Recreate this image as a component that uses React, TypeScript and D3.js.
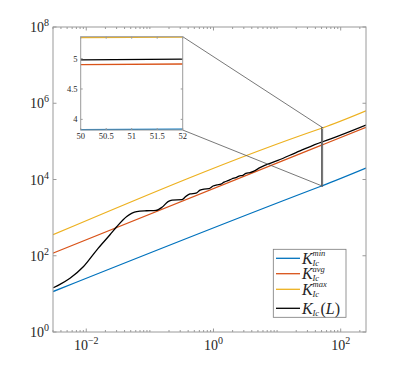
import * as d3 from "d3";

// end points of the straight bounds (L, K)
const boundL = [0.003, 50, 52, 250];
const kMin = [11.5, 6760, 6930, 19950];
const kAvg = [117, 79400, 81500, 234000];
const kMax = [355, 221000, 226000, 631000];

// K_Ic(L) curve
const curveL = [
  0.00303, 0.00386, 0.00555, 0.00898, 0.0146, 0.0236, 0.0301, 0.0433, 0.0621,
  0.0891, 0.125, 0.155, 0.193, 0.223, 0.32, 0.37, 0.428, 0.531, 0.614, 0.71,
  0.851, 0.984, 1.14, 1.31, 1.47, 1.69, 1.96, 2.26, 2.52, 2.91, 3.24, 3.75,
  4.34, 5.38, 10.3, 22.9, 50, 52, 250,
];
const curveK = [
  14.5, 17.8, 25.7, 51.3, 141, 355, 575, 1072, 1445, 1514, 1549, 1862, 2630,
  2884, 2951, 3631, 4169, 4365, 5248, 5623, 5754, 6761, 7244, 7586, 8511, 9333,
  10470, 11220, 12300, 12880, 14450, 15140, 16600, 20420, 31620, 56200, 95500,
  97700, 269000,
];

const xTickLabels = [1e-2, 1, 1e2];
const yTickLabels = [1, 1e2, 1e4, 1e6, 1e8];
const insetXTicks = [50, 50.5, 51, 51.5, 52];
const insetYTicks = [4, 4.5, 5];
const zoomBox = { l0: 50, l1: 52, k0: 3.825, k1: 5.36 };

const COLORS = ["#0072BD", "#D95319", "#EDB120", "#000000"];
const AXIS = "#9a9a9a";
const TEXT = "#262626";
const SERIF = "'Liberation Serif', 'DejaVu Serif', serif";

const P = { left: 53, right: 366, top: 27, bottom: 332 };
const INSET = { left: 80.7, right: 182.7, top: 36.7, bottom: 130 };

const series = [
  { L: boundL, K: kMin, color: COLORS[0], sup: "min" },
  { L: boundL, K: kAvg, color: COLORS[1], sup: "avg" },
  { L: boundL, K: kMax, color: COLORS[2], sup: "max" },
  { L: curveL, K: curveK, color: COLORS[3], sup: null },
];

const exp = (v: number) => {
  const e = Math.round(Math.log10(v));
  return e < 0 ? "\u2212" + Math.abs(e) : String(e);
};

export default function App() {
  const x = d3.scaleLog().domain([0.003, 250]).range([P.left, P.right]);
  const y = d3.scaleLog().domain([1, 1e8]).range([P.bottom, P.top]);
  const ix = d3.scaleLinear().domain([50, 52]).range([INSET.left, INSET.right]);
  const iy = d3
    .scaleLinear()
    .domain([zoomBox.k0, zoomBox.k1])
    .range([INSET.bottom, INSET.top]);

  const line = d3
    .line<[number, number]>()
    .x((d) => x(d[0]))
    .y((d) => y(d[1]))
    .curve(d3.curveMonotoneX);
  const insetLine = d3
    .line<[number, number]>()
    .x((d) => ix(d[0]))
    .y((d) => iy(Math.log10(d[1])));

  const minorX = x.ticks().filter((t) => !xTickLabels.some((m) => Math.abs(m - t) / m < 1e-6));

  const bx0 = x(zoomBox.l0);
  const bx1 = x(zoomBox.l1);
  const by0 = y(Math.pow(10, zoomBox.k0));
  const by1 = y(Math.pow(10, zoomBox.k1));

  const legendRows = [258.3, 273.7, 289.3, 308.3];

  return (
    <svg
      width={405}
      height={373}
      style={{ position: "absolute", left: 0, top: 0, background: "#fff", fontFamily: SERIF }}
    >
      <defs>
        <clipPath id="plot">
          <rect x={P.left} y={P.top} width={P.right - P.left} height={P.bottom - P.top} />
        </clipPath>
      </defs>

      {/* main lines */}
      <g clipPath="url(#plot)">
        {series.map((s, i) => (
          <path
            key={i}
            d={line(s.L.map((l, j) => [l, s.K[j]] as [number, number])) || ""}
            fill="none"
            stroke={s.color}
            strokeWidth={1.3}
          />
        ))}
      </g>

      {/* axes box */}
      <rect
        x={P.left}
        y={P.top}
        width={P.right - P.left}
        height={P.bottom - P.top}
        fill="none"
        stroke={AXIS}
        strokeWidth={1}
      />
      {xTickLabels.map((t, i) => (
        <g key={i}>
          <line x1={x(t)} x2={x(t)} y1={P.bottom} y2={P.bottom - 3.5} stroke={AXIS} />
          <line x1={x(t)} x2={x(t)} y1={P.top} y2={P.top + 3.5} stroke={AXIS} />
          <text x={x(t)} y={349.5} textAnchor="middle" fontSize={14} fill={TEXT}>
            10
            <tspan dy={-6} fontSize={10}>
              {exp(t)}
            </tspan>
          </text>
        </g>
      ))}
      {minorX.map((t, i) => (
        <g key={i}>
          <line x1={x(t)} x2={x(t)} y1={P.bottom} y2={P.bottom - 2} stroke={AXIS} />
          <line x1={x(t)} x2={x(t)} y1={P.top} y2={P.top + 2} stroke={AXIS} />
        </g>
      ))}
      {yTickLabels.map((t, i) => (
        <g key={i}>
          <line x1={P.left} x2={P.left + 3.5} y1={y(t)} y2={y(t)} stroke={AXIS} />
          <line x1={P.right} x2={P.right - 3.5} y1={y(t)} y2={y(t)} stroke={AXIS} />
          <text x={49} y={y(t) + 5} textAnchor="end" fontSize={14} fill={TEXT}>
            10
            <tspan dy={-6} fontSize={10}>
              {exp(t)}
            </tspan>
          </text>
        </g>
      ))}

      {/* zoom region and connectors */}
      <rect
        x={bx0}
        y={by1}
        width={bx1 - bx0}
        height={by0 - by1}
        fill="none"
        stroke="#666"
        strokeWidth={1}
      />
      <line x1={INSET.right} y1={INSET.top} x2={bx1} y2={by1} stroke="#555" strokeWidth={0.8} />
      <line x1={INSET.right} y1={INSET.bottom} x2={bx1} y2={by0} stroke="#555" strokeWidth={0.8} />

      {/* inset */}
      <rect
        x={INSET.left}
        y={INSET.top}
        width={INSET.right - INSET.left}
        height={INSET.bottom - INSET.top}
        fill="#fff"
      />
      {series.map((s, i) => {
        const pts = s.L.map((l, j) => [l, s.K[j]] as [number, number]).filter(
          (d) => d[0] >= zoomBox.l0 && d[0] <= zoomBox.l1
        );
        return (
          <path key={i} d={insetLine(pts) || ""} fill="none" stroke={s.color} strokeWidth={1.3} />
        );
      })}
      <rect
        x={INSET.left}
        y={INSET.top}
        width={INSET.right - INSET.left}
        height={INSET.bottom - INSET.top}
        fill="none"
        stroke={AXIS}
      />
      {insetXTicks.map((t, i) => (
        <g key={i}>
          <line x1={ix(t)} x2={ix(t)} y1={INSET.bottom} y2={INSET.bottom - 2} stroke={AXIS} />
          <line x1={ix(t)} x2={ix(t)} y1={INSET.top} y2={INSET.top + 2} stroke={AXIS} />
          <text x={ix(t)} y={139} textAnchor="middle" fontSize={8.5} fill={TEXT}>
            {t}
          </text>
        </g>
      ))}
      {insetYTicks.map((t, i) => (
        <g key={i}>
          <line x1={INSET.left} x2={INSET.left + 2} y1={iy(t)} y2={iy(t)} stroke={AXIS} />
          <line x1={INSET.right} x2={INSET.right - 2} y1={iy(t)} y2={iy(t)} stroke={AXIS} />
          <text x={77.5} y={iy(t) + 3} textAnchor="end" fontSize={8.5} fill={TEXT}>
            {t}
          </text>
        </g>
      ))}

      {/* legend */}
      <rect x={273.3} y={249.3} width={72.7} height={68} fill="#fff" stroke="#7a7a7a" strokeWidth={0.8} />
      {series.map((s, i) => {
        const ly = legendRows[i];
        return (
          <g key={i}>
            <line x1={276} x2={300} y1={ly} y2={ly} stroke={s.color} strokeWidth={1.3} />
            <text x={302} y={ly + 5.7} fontSize={16} fontStyle="italic" fill={TEXT}>
              K
            </text>
            <text x={312.5} y={ly + 7.5} fontSize={8.5} fontStyle="italic" fill={TEXT}>
              Ic
            </text>
            {s.sup ? (
              <text x={312.5} y={ly - 2} fontSize={8.5} fontStyle="italic" fill={TEXT}>
                {s.sup}
              </text>
            ) : (
              <text x={320.5} y={ly + 5.7} fontSize={16} fill={TEXT}>
                (<tspan fontStyle="italic">L</tspan>)
              </text>
            )}
          </g>
        );
      })}
    </svg>
  );
}
